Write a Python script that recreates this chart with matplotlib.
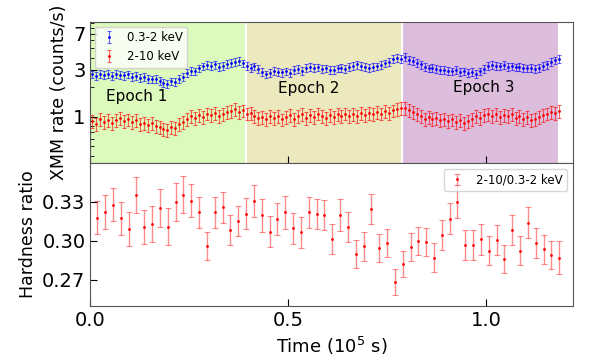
import numpy as np
import matplotlib
matplotlib.use("Agg")
import matplotlib.pyplot as plt
from matplotlib.ticker import FixedLocator, LogLocator, NullFormatter, FixedFormatter

# light curve, 1 ks bins (time in 1e5 s)
t_lc = [0.005 + 0.01 * k for k in range(119)]
soft = [2.70, 2.62, 2.75, 2.66, 2.72, 2.60, 2.74, 2.68, 2.63, 2.70,
        2.55, 2.62, 2.48, 2.56, 2.44, 2.40, 2.45, 2.33, 2.22, 2.15,
        2.30, 2.25, 2.42, 2.55, 2.80, 2.95, 2.90, 3.10, 3.25, 3.35,
        3.30, 3.40, 3.22, 3.30, 3.45, 3.55, 3.62, 3.70, 3.50, 3.30,
        3.15, 3.25, 3.05, 2.85, 2.70, 2.80, 2.95, 2.88, 2.82, 2.90,
        2.78, 3.00, 3.05, 2.95, 3.15, 3.20, 3.12, 3.18, 3.05, 3.10,
        2.98, 3.02, 3.10, 3.15, 3.08, 3.20, 3.30, 3.40, 3.28, 3.22,
        3.15, 3.20, 3.25, 3.35, 3.50, 3.60, 3.85, 3.95, 3.90, 4.05,
        3.80, 3.70, 3.55, 3.40, 3.20, 3.10, 3.15, 3.05, 2.98, 3.02,
        2.95, 2.90, 2.98, 2.85, 2.90, 2.80, 2.86, 2.72, 2.90, 3.05,
        3.30, 3.38, 3.30, 3.25, 3.35, 3.20, 3.25, 3.18, 3.22, 3.15,
        3.10, 3.12, 3.05, 3.15, 3.30, 3.40, 3.60, 3.75, 3.85]
hard = [0.90, 0.85, 0.95, 0.88, 0.92, 0.86, 0.93, 0.97, 0.90, 0.94,
        0.88, 0.92, 0.85, 0.87, 0.82, 0.86, 0.80, 0.78, 0.76, 0.74,
        0.79, 0.77, 0.84, 0.88, 0.95, 1.02, 0.98, 1.05, 1.00, 1.08,
        1.04, 1.10, 1.02, 1.07, 1.12, 1.15, 1.20, 1.12, 1.16, 1.08,
        1.10, 1.02, 0.98, 1.00, 0.95, 1.03, 0.97, 1.01, 0.94, 0.99,
        1.04, 0.96, 1.02, 1.06, 0.98, 1.05, 1.00, 1.08, 1.02, 0.97,
        1.04, 1.00, 1.06, 1.02, 1.08, 1.03, 1.06, 1.01, 1.09, 1.05,
        1.10, 1.06, 1.12, 1.08, 1.14, 1.10, 1.16, 1.20, 1.24, 1.22,
        1.18, 1.12, 1.06, 1.02, 0.96, 1.00, 0.95, 0.98, 0.92, 0.96,
        0.90, 0.94, 0.88, 0.92, 0.87, 0.91, 0.96, 1.02, 0.98, 1.04,
        1.07, 1.02, 1.06, 0.99, 1.04, 1.01, 1.06, 0.97, 1.02, 0.95,
        0.99, 0.93, 0.96, 1.00, 1.05, 1.08, 1.12, 1.10, 1.14]
soft_frac_err = 0.09
hard_frac_err = 0.15

# hardness ratio, 2 ks bins
t_hr = [0.0175 + 0.0198 * k for k in range(60)]
hr = [0.318, 0.322, 0.328, 0.3175, 0.309, 0.3355, 0.311, 0.313, 0.325, 0.311,
      0.330, 0.3357, 0.331, 0.322, 0.296, 0.322, 0.326, 0.3086, 0.3154, 0.321,
      0.331, 0.3196, 0.307, 0.317, 0.322, 0.3097, 0.3065, 0.322, 0.321, 0.320,
      0.3015, 0.3198, 0.3107, 0.2898, 0.2958, 0.3245, 0.2945, 0.2984, 0.2684, 0.2825,
      0.2953, 0.300, 0.2992, 0.2872, 0.3047, 0.317, 0.3303, 0.2966, 0.2969, 0.3013,
      0.2924, 0.3008, 0.2864, 0.3086, 0.2924, 0.3141, 0.2987, 0.2935, 0.289, 0.2872]
hr_err = [0.013, 0.013, 0.013, 0.0128, 0.013, 0.014, 0.013, 0.0137, 0.0146, 0.0143,
          0.0143, 0.0139, 0.0125, 0.012, 0.011, 0.0117, 0.012, 0.0115, 0.0114, 0.0117,
          0.0123, 0.0125, 0.012, 0.0123, 0.0125, 0.012, 0.0116, 0.0117, 0.0116, 0.0117,
          0.0118, 0.0123, 0.0117, 0.011, 0.0112, 0.0118, 0.011, 0.0108, 0.0097, 0.0101,
          0.0106, 0.011, 0.011, 0.011, 0.0117, 0.012, 0.0125, 0.0115, 0.0117, 0.012,
          0.0112, 0.0117, 0.0108, 0.0115, 0.0111, 0.0117, 0.0116, 0.0114, 0.0107, 0.0128]

epoch_edges = [0.0, 0.394, 0.789, 1.183]
epoch_colors = ["#dcfabb", "#ece9bf", "#dcbddc"]
epoch_labels = ["Epoch 1", "Epoch 2", "Epoch 3"]
label_pos = [(0.118, 1.62), (0.553, 1.93), (0.995, 2.0)]

fig = plt.figure(figsize=(5.98, 3.59), dpi=100)
ax1 = fig.add_axes([0.151, 0.546, 0.807, 0.393])
ax2 = fig.add_axes([0.151, 0.148, 0.807, 0.398], sharex=ax1)

# epochs
for i in range(3):
    ax1.axvspan(epoch_edges[i], epoch_edges[i + 1], color=epoch_colors[i], lw=0)
    ax1.text(label_pos[i][0], label_pos[i][1], epoch_labels[i], ha="center",
             va="center", fontsize=11)
for e in epoch_edges[1:3]:
    ax1.axvline(e, color="white", lw=1.5)

soft = np.array(soft)
hard = np.array(hard)
ax1.errorbar(t_lc, soft, yerr=soft * soft_frac_err, fmt=".", ms=2, color="blue",
             ecolor=(0, 0, 1, 0.6), elinewidth=0.8, capsize=1.5, capthick=0.8,
             label="0.3-2 keV")
ax1.errorbar(t_lc, hard, yerr=hard * hard_frac_err, fmt=".", ms=2, color="red",
             ecolor=(1, 0, 0, 0.6), elinewidth=0.8, capsize=1.5, capthick=0.8,
             label="2-10 keV")
ax1.set_yscale("log")
ax1.set_ylim(0.34, 9.2)
ax1.yaxis.set_major_locator(FixedLocator([1, 3, 7]))
ax1.yaxis.set_major_formatter(FixedFormatter(["1", "3", "7"]))
ax1.yaxis.set_minor_locator(LogLocator(base=10, subs=np.arange(2, 10)))
ax1.yaxis.set_minor_formatter(NullFormatter())
ax1.set_ylabel("XMM rate (counts/s)", fontsize=12.5)
ax1.legend(loc="upper left", fontsize=8.5, handlelength=1.5, borderaxespad=0.4)
ax1.tick_params(labelbottom=False)

ax2.errorbar(t_hr, hr, yerr=hr_err, fmt=".", ms=2, color="red",
             ecolor=(1, 0, 0, 0.45), elinewidth=1, capsize=2, capthick=0.8,
             label="2-10/0.3-2 keV")
ax2.set_ylim(0.25, 0.36)
ax2.set_yticks([0.27, 0.30, 0.33])
ax2.set_yticklabels(["0.27", "0.30", "0.33"])
ax2.set_xlim(0, 1.22)
ax2.set_xticks([0.0, 0.5, 1.0])
ax2.set_xticklabels(["0.0", "0.5", "1.0"])
ax2.set_xlabel("Time (10$^5$ s)", fontsize=13)
ax2.set_ylabel("Hardness ratio", fontsize=12.5)
ax2.legend(loc="upper right", fontsize=8.5, handlelength=1.5)

for ax in (ax1, ax2):
    ax.tick_params(which="both", direction="in", labelsize=14)
    ax.tick_params(which="major", length=5)
    ax.tick_params(which="minor", length=3)
    for s in ax.spines.values():
        s.set_color("#555555")

fig.savefig("out.png", dpi=100)
